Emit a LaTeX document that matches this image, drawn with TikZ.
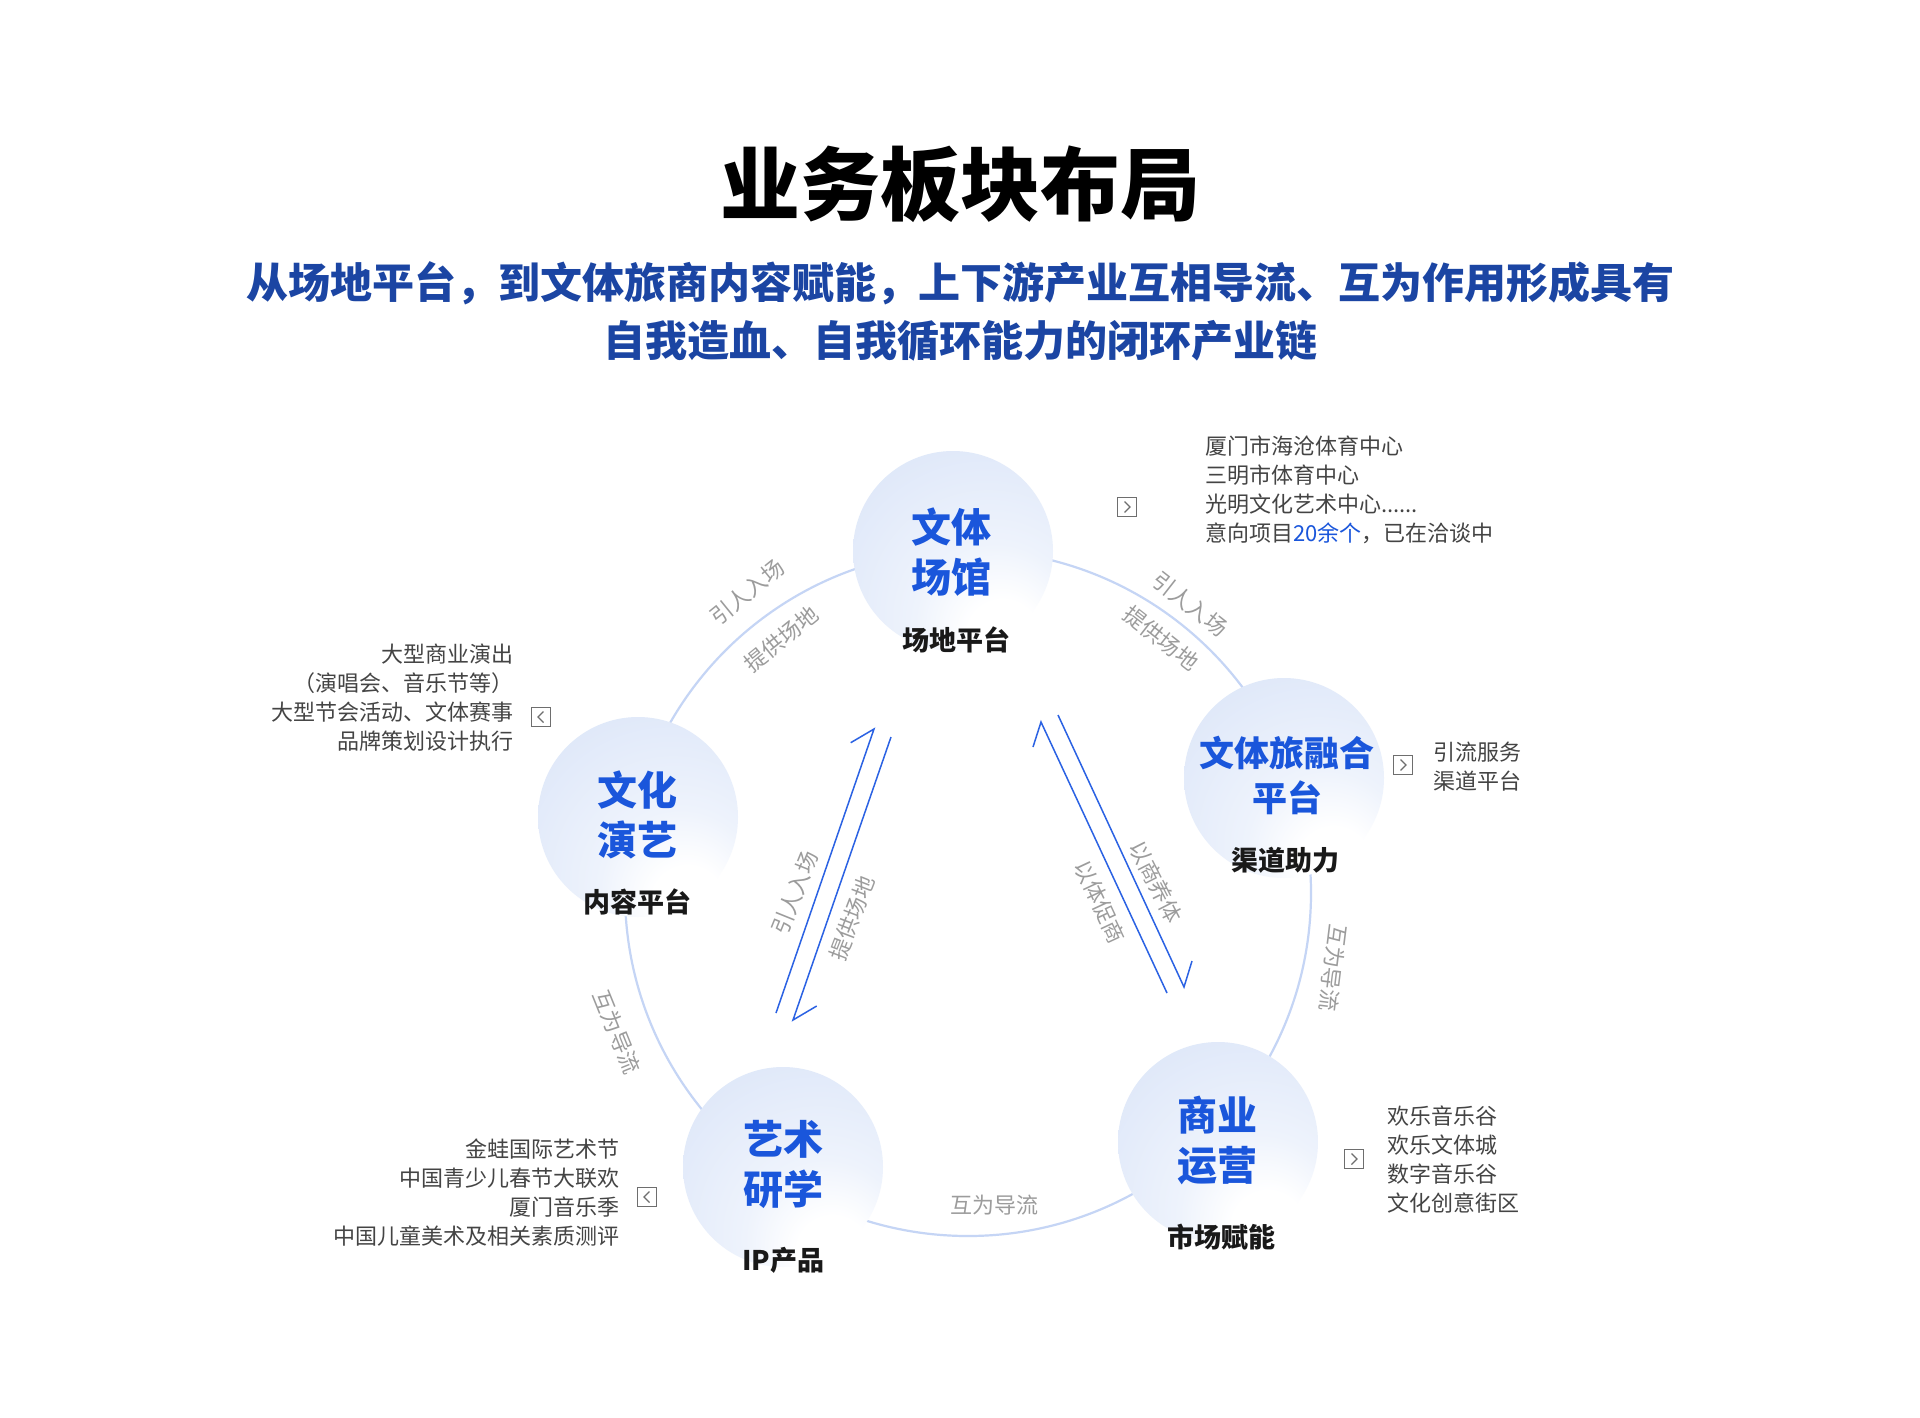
\documentclass[tikz,border=0pt]{standalone}
\usepackage{fontspec}
\setmainfont{Noto Sans CJK SC}
\newfontfamily\cjk{Noto Sans CJK SC}
\definecolor{titleblue}{HTML}{1B45A3}
\definecolor{nodeblue}{HTML}{1A56DB}
\definecolor{arrowblue}{HTML}{2B62E3}
\definecolor{ringblue}{HTML}{C5D5F5}
\definecolor{listgray}{HTML}{444444}
\definecolor{arcgray}{HTML}{9C9C9C}
\definecolor{iconGray}{HTML}{6E6E6E}
\definecolor{glowA}{HTML}{EEF3FC}
\definecolor{glowB}{HTML}{DBE5F8}
\definecolor{glowC}{HTML}{D0DDF6}
\pgfdeclareradialshading{nodeglow}{\pgfpoint{14bp}{-24bp}}{color(0bp)=(white); color(9bp)=(white); color(20bp)=(glowA); color(46bp)=(glowB); color(80bp)=(glowC)}
\tikzset{
 bubble/.style={circle, minimum size=200pt, inner sep=0pt, shading=nodeglow},
 headtext/.style={font=\cjk\bfseries\fontsize{40}{50}\selectfont, text=nodeblue, align=center, inner sep=0pt},
 subtext/.style={font=\cjk\bfseries\fontsize{27}{32}\selectfont, text=black!90, inner sep=0pt},
 listtext/.style={font=\cjk\fontsize{22}{29}\selectfont, text=listgray, inner sep=0pt},
 arctext/.style={font=\cjk\fontsize{22}{26}\selectfont, text=arcgray, inner sep=0pt},
 flow/.style={draw=arrowblue, line width=1.5pt, line join=miter},
 ringline/.style={draw=ringblue, line width=2.2pt},
 iconbox/.style={draw=iconGray, line width=1.4pt, minimum size=19pt, inner sep=0pt},
 chev/.style={draw=iconGray, line width=1.2pt},
}
\begin{document}
\begin{tikzpicture}[x=1pt,y=-1pt]
\useasboundingbox (0,0) rectangle (1920,1417);
\fill[white] (0,0) rectangle (1920,1417);

% title
\node[font=\cjk\bfseries\fontsize{80}{90}\selectfont, text=black, inner sep=0pt] (title) at (960,184) {业务板块布局};
\node[font=\cjk\bfseries\fontsize{42}{58}\selectfont, text=titleblue, align=center, inner sep=0pt] (subtitle) at (960,311) {从场地平台，到文体旅商内容赋能，上下游产业互相导流、互为作用形成具有\\自我造血、自我循环能力的闭环产业链};

% ring
\node[circle, minimum size=686pt, inner sep=0pt, ringline] (ring) at (968,893) {};

% bubbles
\node[bubble] (top) at (953,551) {};
\node[bubble] (left) at (638,817) {};
\node[bubble] (right) at (1284,778) {};
\node[bubble] (br) at (1218,1142) {};
\node[bubble] (bl) at (783,1167) {};

\node[headtext] (topH) at (951,552) {文体\\场馆};
\node[subtext] (topS) at (956,640) {场地平台};
\node[headtext] (leftH) at (637,815) {文化\\演艺};
\node[subtext] (leftS) at (637,902) {内容平台};
\node[headtext, font=\cjk\bfseries\fontsize{35}{45}\selectfont] (rightH) at (1287,775) {文体旅融合\\平台};
\node[subtext] (rightS) at (1285,860) {渠道助力};
\node[headtext] (brH) at (1217,1140) {商业\\运营};
\node[subtext] (brS) at (1221,1237) {市场赋能};
\node[headtext] (blH) at (783,1164) {艺术\\研学};
\node[subtext] (blS) at (783,1260) {IP产品};

% arc labels
\node[arctext, rotate=39] (tlA) at (747,592) {引人入场};
\node[arctext, rotate=39] (tlB) at (781,639) {提供场地};
\node[arctext, rotate=-38] (trA) at (1190,604) {引人入场};
\node[arctext, rotate=-38] (trB) at (1161,638) {提供场地};
\node[arctext, rotate=-97] (rA) at (1333,968) {互为导流};
\node[arctext, rotate=-68] (lA) at (617,1032) {互为导流};
\node[arctext] (bA) at (994,1205) {互为导流};

% center flows
\coordinate (a1s) at (776,1013); \coordinate (a1e) at (874,729); \coordinate (a1b) at (850.7,742.7);
\coordinate (a2s) at (891,737); \coordinate (a2e) at (793,1020); \coordinate (a2b) at (816.7,1006);
\coordinate (b1s) at (1167,993); \coordinate (b1e) at (1041,722); \coordinate (b1b) at (1033,747);
\coordinate (b2s) at (1058,715); \coordinate (b2e) at (1184,987); \coordinate (b2b) at (1192,961);
\draw[flow] (a1s) -- (a1e) -- (a1b);
\draw[flow] (a2s) -- (a2e) -- (a2b);
\draw[flow] (b1s) -- (b1e) -- (b1b);
\draw[flow] (b2s) -- (b2e) -- (b2b);
\node[arctext, rotate=68] (cA1) at (795,893) {引人入场};
\node[arctext, rotate=69] (cA2) at (852,918) {提供场地};
\node[arctext, rotate=-65] (cB1) at (1100,902) {以体促商};
\node[arctext, rotate=-63] (cB2) at (1156,882) {以商养体};

% lists
\node[listtext, anchor=west, align=left] (topL) at (1205,490) {厦门市海沧体育中心\\三明市体育中心\\光明文化艺术中心......\\意向项目{\color{nodeblue}20余个}，已在洽谈中};
\node[listtext, anchor=east, align=right] (leftL) at (514,698) {大型商业演出\\（演唱会、音乐节等）\\大型节会活动、文体赛事\\品牌策划设计执行};
\node[listtext, anchor=west, align=left] (rightL) at (1433,767) {引流服务\\渠道平台};
\node[listtext, anchor=west, align=left] (brL) at (1387,1160) {欢乐音乐谷\\欢乐文体城\\数字音乐谷\\文化创意街区};
\node[listtext, anchor=east, align=right] (blL) at (620,1193) {金蛙国际艺术节\\中国青少儿春节大联欢\\厦门音乐季\\中国儿童美术及相关素质测评};

% icons
\node[iconbox] (topI) at (1127,507) {};
\draw[chev] ([shift={(-2.5,-5.5)}]topI.center) -- ([shift={(3,0)}]topI.center) -- ([shift={(-2.5,5.5)}]topI.center);
\node[iconbox] (rightI) at (1403,765) {};
\draw[chev] ([shift={(-2.5,-5.5)}]rightI.center) -- ([shift={(3,0)}]rightI.center) -- ([shift={(-2.5,5.5)}]rightI.center);
\node[iconbox] (brI) at (1354,1159) {};
\draw[chev] ([shift={(-2.5,-5.5)}]brI.center) -- ([shift={(3,0)}]brI.center) -- ([shift={(-2.5,5.5)}]brI.center);
\node[iconbox] (leftI) at (541,717) {};
\draw[chev] ([shift={(2.5,-5.5)}]leftI.center) -- ([shift={(-3,0)}]leftI.center) -- ([shift={(2.5,5.5)}]leftI.center);
\node[iconbox] (blI) at (647,1197) {};
\draw[chev] ([shift={(2.5,-5.5)}]blI.center) -- ([shift={(-3,0)}]blI.center) -- ([shift={(2.5,5.5)}]blI.center);
\end{tikzpicture}
\end{document}
